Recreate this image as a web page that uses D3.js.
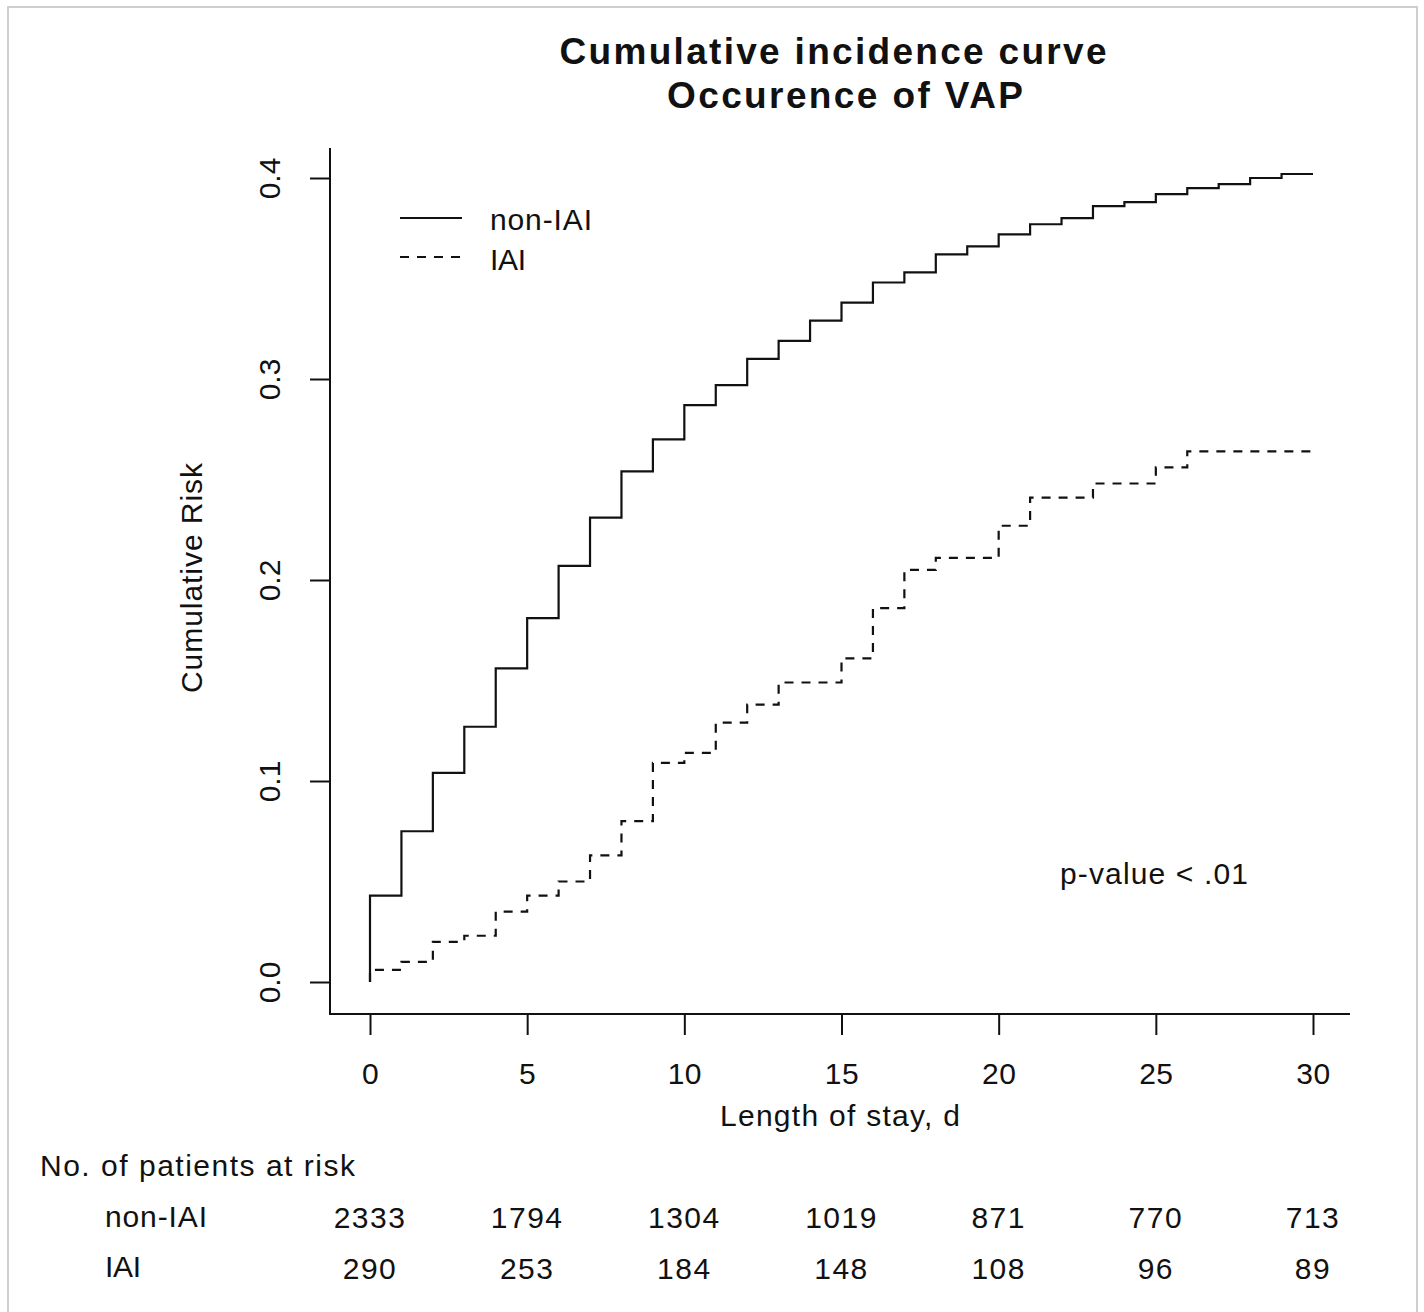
<!DOCTYPE html>
<html>
<head>
<meta charset="utf-8">
<script src="https://cdn.jsdelivr.net/npm/d3@7"></script>
<style>
  html, body { margin: 0; padding: 0; background: #fff; }
  svg { display: block; }
  text { font-family: "Liberation Sans", Arial, sans-serif; fill: #111; }
</style>
</head>
<body>
<script>
// ---- data ----
const days = d3.range(0, 30);            // step start days 0..29
const nonIAI = [0.043, 0.075, 0.104, 0.127, 0.156, 0.181, 0.207, 0.231, 0.254, 0.270,
                0.287, 0.297, 0.310, 0.319, 0.329, 0.338, 0.348, 0.353, 0.362, 0.366,
                0.372, 0.377, 0.380, 0.386, 0.388, 0.392, 0.395, 0.397, 0.400, 0.402];
const IAI    = [0.006, 0.010, 0.020, 0.023, 0.035, 0.043, 0.050, 0.063, 0.080, 0.109,
                0.114, 0.129, 0.138, 0.149, 0.149, 0.161, 0.186, 0.205, 0.211, 0.211,
                0.227, 0.241, 0.241, 0.248, 0.248, 0.256, 0.264, 0.264, 0.264, 0.264];
const xTicks = [0, 5, 10, 15, 20, 25, 30];
const yTicks = [0.0, 0.1, 0.2, 0.3, 0.4];
const riskNonIAI = [2333, 1794, 1304, 1019, 871, 770, 713];
const riskIAI    = [290, 253, 184, 148, 108, 96, 89];

const W = 1424, H = 1312;
const svg = d3.select("body").append("svg").attr("width", W).attr("height", H);

// frame border
svg.append("rect").attr("x", 8).attr("y", 7).attr("width", 1409).attr("height", 1310)
  .attr("fill", "none").attr("stroke", "#cfcfcf").attr("stroke-width", 2);

const x = d3.scaleLinear().domain([0, 30]).range([370, 1313]);
const y = d3.scaleLinear().domain([0, 0.4]).range([982, 178]);

const frameLeft = 330, frameBottom = 1014, frameTop = 148, frameRight = 1350;

// L-shaped frame
svg.append("path")
  .attr("d", `M${frameLeft},${frameTop}V${frameBottom}H${frameRight}`)
  .attr("fill", "none").attr("stroke", "#111").attr("stroke-width", 2);

// axes
const gx = svg.append("g").attr("transform", `translate(0,${frameBottom})`)
  .call(d3.axisBottom(x).tickValues(xTicks).tickSize(21).tickPadding(28).tickFormat(d3.format("d")));
gx.select(".domain").remove();
gx.selectAll("line").attr("stroke", "#111").attr("stroke-width", 2);
gx.selectAll("text").attr("font-size", 30).attr("font-family", "Liberation Sans, Arial, sans-serif")
  .attr("fill", "#111").attr("letter-spacing", 0.5);

const gy = svg.append("g").attr("transform", `translate(${frameLeft},0)`)
  .call(d3.axisLeft(y).tickValues(yTicks).tickSize(20).tickFormat(d3.format(".1f")));
gy.select(".domain").remove();
gy.selectAll("line").attr("stroke", "#111").attr("stroke-width", 2);
gy.selectAll("text")
  .attr("font-size", 30).attr("font-family", "Liberation Sans, Arial, sans-serif").attr("fill", "#111")
  .attr("text-anchor", "middle").attr("x", null)
  .attr("transform", "translate(-50,0) rotate(-90)")
  .attr("dy", "0");

// step curves
const line = d3.line().x(d => x(d[0])).y(d => y(d[1])).curve(d3.curveStepAfter);
function pts(vals) {
  const p = [[0, 0]];
  days.forEach((d, i) => p.push([d, vals[i]]));
  p.push([30, vals[vals.length - 1]]);
  return p;
}
svg.append("path").attr("d", line(pts(nonIAI)))
  .attr("fill", "none").attr("stroke", "#111").attr("stroke-width", 2.2);
svg.append("path").attr("d", line(pts(IAI)))
  .attr("fill", "none").attr("stroke", "#111").attr("stroke-width", 2.2)
  .attr("stroke-dasharray", "9,8");

function label(xp, yp, str, size, len, opts = {}) {
  const t = svg.append("text").attr("x", xp).attr("y", yp).attr("font-size", size).text(str);
  if (opts.anchor) t.attr("text-anchor", opts.anchor);
  if (opts.bold) t.attr("font-weight", "bold");
  if (opts.transform) t.attr("transform", opts.transform);
  if (len) t.attr("textLength", len).attr("lengthAdjust", "spacing");
  return t;
}

// title
label(833, 64, "Cumulative incidence curve", 37, 547, { anchor: "middle", bold: true });
label(845, 108, "Occurence of VAP", 37, 356, { anchor: "middle", bold: true });

// axis titles
label(840, 1126, "Length of stay, d", 30, 240, { anchor: "middle" });
label(0, 0, "Cumulative Risk", 30, 230, { anchor: "middle", transform: "translate(202,578) rotate(-90)" });

// legend
svg.append("line").attr("x1", 400).attr("x2", 462).attr("y1", 218).attr("y2", 218)
  .attr("stroke", "#111").attr("stroke-width", 2);
svg.append("line").attr("x1", 400).attr("x2", 462).attr("y1", 257).attr("y2", 257)
  .attr("stroke", "#111").attr("stroke-width", 2).attr("stroke-dasharray", "9,8");
label(490, 230, "non-IAI", 30, 102);
label(490, 270, "IAI", 30, 36);

// p-value
label(1060, 884, "p-value < .01", 30, 188);

// risk table
label(40, 1176, "No. of patients at risk", 30, 315);
label(105, 1227, "non-IAI", 30, 102);
label(105, 1277, "IAI", 30, 36);
svg.append("g").selectAll("text").data(riskNonIAI).join("text")
  .attr("x", (d, i) => x(xTicks[i])).attr("y", 1228).attr("text-anchor", "middle")
  .attr("font-size", 30).attr("letter-spacing", 1.5).text(d => d);
svg.append("g").selectAll("text").data(riskIAI).join("text")
  .attr("x", (d, i) => x(xTicks[i])).attr("y", 1279).attr("text-anchor", "middle")
  .attr("font-size", 30).attr("letter-spacing", 1.5).text(d => d);
</script>
</body>
</html>
